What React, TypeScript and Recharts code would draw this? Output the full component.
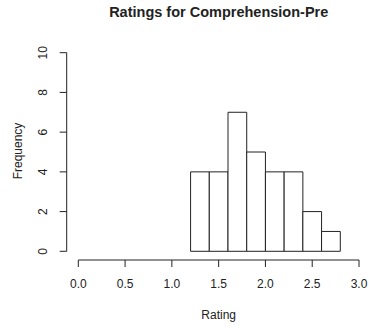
import { ComposedChart, XAxis, YAxis, ReferenceArea, ReferenceLine, Scatter } from 'recharts'

// histogram bins (width 0.2) and their counts
const binStarts = [1.2, 1.4, 1.6, 1.8, 2.0, 2.2, 2.4, 2.6]
const binEnds = [1.4, 1.6, 1.8, 2.0, 2.2, 2.4, 2.6, 2.8]
const counts = [4, 4, 7, 5, 4, 4, 2, 1]

const xTicks = [0, 0.5, 1, 1.5, 2, 2.5, 3]
const yTicks = [0, 2, 4, 6, 8, 10]

// axes in R sit a little outside the plot region, so the domains are padded
const X_MIN = -0.124
const Y_MIN = -0.438

const FONT = '"Liberation Sans", Arial, Helvetica, sans-serif'
const INK = '#222'

const bins = binStarts.map((start, i) => ({
  start,
  end: binEnds[i],
  mid: (start + binEnds[i]) / 2,
  count: counts[i],
}))

const YTick = (props: any) => {
  const { x, y, payload } = props
  return (
    <text
      x={x}
      y={y}
      transform={`rotate(-90, ${x}, ${y})`}
      textAnchor="middle"
      fontSize={12}
      fontFamily={FONT}
      fill={INK}
    >
      {payload.value}
    </text>
  )
}

const App = () => {
  return (
    <div
      style={{
        position: 'absolute',
        left: 0,
        top: 0,
        width: 369,
        height: 328,
        background: '#fff',
      }}
    >
      <ComposedChart
        width={369}
        height={328}
        data={bins}
        margin={{ top: 52.7, right: 10, bottom: 0, left: 0 }}
      >
        <XAxis
          type="number"
          dataKey="mid"
          domain={[X_MIN, 3]}
          ticks={xTicks}
          tickFormatter={(v: number) => v.toFixed(1)}
          axisLine={false}
          tickSize={7}
          tickMargin={12}
          height={68}
          tickLine={{ stroke: INK }}
          tick={{ fontSize: 12, fontFamily: FONT, fill: INK }}
          allowDataOverflow
        />
        <YAxis
          type="number"
          domain={[Y_MIN, 10]}
          ticks={yTicks}
          axisLine={false}
          tickSize={7}
          tickMargin={13}
          width={66.7}
          tickLine={{ stroke: INK }}
          tick={<YTick />}
          allowDataOverflow
        />
        <ReferenceLine
          segment={[{ x: X_MIN, y: 0 }, { x: X_MIN, y: 10 }]}
          stroke={INK}
          ifOverflow="visible"
        />
        <ReferenceLine
          segment={[{ x: 0, y: Y_MIN }, { x: 3, y: Y_MIN }]}
          stroke={INK}
          ifOverflow="visible"
        />
        {bins.map((b) => (
          <ReferenceArea
            key={b.start}
            x1={b.start}
            x2={b.end}
            y1={0}
            y2={b.count}
            fill="#fff"
            fillOpacity={1}
            stroke={INK}
            strokeWidth={1}
            ifOverflow="visible"
          />
        ))}
        <Scatter dataKey="count" shape={() => <g />} isAnimationActive={false} />
      </ComposedChart>
      <svg
        width={369}
        height={328}
        style={{ position: 'absolute', left: 0, top: 0, pointerEvents: 'none' }}
      >
        <text
          x={218.7}
          y={17.3}
          textAnchor="middle"
          fontSize={14.5}
          fontWeight="bold"
          fontFamily={FONT}
          fill={INK}
        >
          Ratings for Comprehension-Pre
        </text>
        <text
          x={218.7}
          y={318.6}
          textAnchor="middle"
          fontSize={12}
          fontFamily={FONT}
          fill={INK}
        >
          Rating
        </text>
        <text
          x={22}
          y={151}
          transform="rotate(-90, 22, 151)"
          textAnchor="middle"
          fontSize={12}
          fontFamily={FONT}
          fill={INK}
        >
          Frequency
        </text>
      </svg>
    </div>
  )
}

export default App
